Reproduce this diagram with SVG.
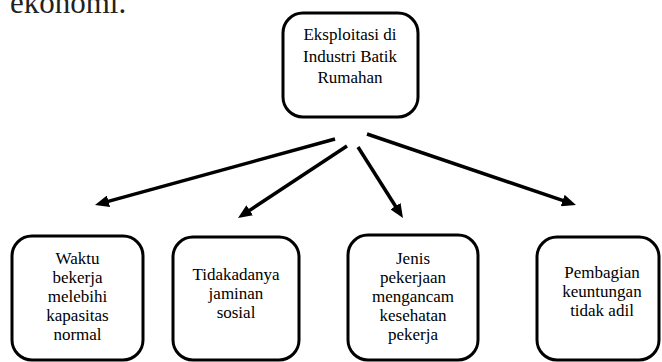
<svg xmlns="http://www.w3.org/2000/svg" width="662" height="362" viewBox="0 0 662 362">
  <style>
    .box { fill: #ffffff; stroke: #000000; stroke-width: 3; }
    .lbl { font-family: "Liberation Serif", "Times New Roman", serif; font-size: 17px; fill: #000000; text-anchor: middle; }
    .conn { stroke: #000000; stroke-width: 3.5; fill: none; marker-end: url(#arrow); }
    .top { font-family: "Liberation Serif", "Times New Roman", serif; font-size: 31px; fill: #222222; }
  </style>
  <defs>
    <marker id="arrow" markerUnits="userSpaceOnUse" markerWidth="14" markerHeight="12" refX="6" refY="6" orient="auto">
      <path d="M0,0 L14,6 L0,12 z" fill="#000000"/>
    </marker>
  </defs>
  <rect width="662" height="362" fill="#ffffff"/>
  <text class="top" x="10" y="13">ekonomi.</text>

  <g id="root">
    <rect class="box" x="283" y="13" width="135" height="104" rx="20" ry="20"/>
    <text class="lbl" x="350" y="40">Eksploitasi di</text>
    <text class="lbl" x="350" y="62">Industri Batik</text>
    <text class="lbl" x="350" y="83">Rumahan</text>
  </g>

  <g id="connectors">
    <line class="conn" x1="335" y1="139" x2="102.7" y2="202.9"/>
    <line class="conn" x1="347" y1="146" x2="244.7" y2="213.6"/>
    <line class="conn" x1="358" y1="147" x2="398.7" y2="211.2"/>
    <line class="conn" x1="367" y1="134" x2="568.4" y2="202.4"/>
  </g>

  <g id="waktu">
    <rect class="box" x="12" y="236" width="131" height="124" rx="20" ry="20"/>
    <text class="lbl" x="77.5" y="264">Waktu</text>
    <text class="lbl" x="77.5" y="283">bekerja</text>
    <text class="lbl" x="77.5" y="302">melebihi</text>
    <text class="lbl" x="77.5" y="321">kapasitas</text>
    <text class="lbl" x="77.5" y="340">normal</text>
  </g>

  <g id="jaminan">
    <rect class="box" x="173" y="237" width="126" height="123" rx="20" ry="20"/>
    <text class="lbl" x="236" y="280">Tidakadanya</text>
    <text class="lbl" x="236" y="299">jaminan</text>
    <text class="lbl" x="236" y="318">sosial</text>
  </g>

  <g id="jenis">
    <rect class="box" x="348" y="235" width="130" height="125" rx="20" ry="20"/>
    <text class="lbl" x="413" y="264">Jenis</text>
    <text class="lbl" x="413" y="283">pekerjaan</text>
    <text class="lbl" x="413" y="302">mengancam</text>
    <text class="lbl" x="413" y="321">kesehatan</text>
    <text class="lbl" x="413" y="340">pekerja</text>
  </g>

  <g id="pembagian">
    <rect class="box" x="537" y="237" width="122" height="123" rx="20" ry="20"/>
    <text class="lbl" x="602" y="278">Pembagian</text>
    <text class="lbl" x="602" y="297">keuntungan</text>
    <text class="lbl" x="602" y="316">tidak adil</text>
  </g>
</svg>
